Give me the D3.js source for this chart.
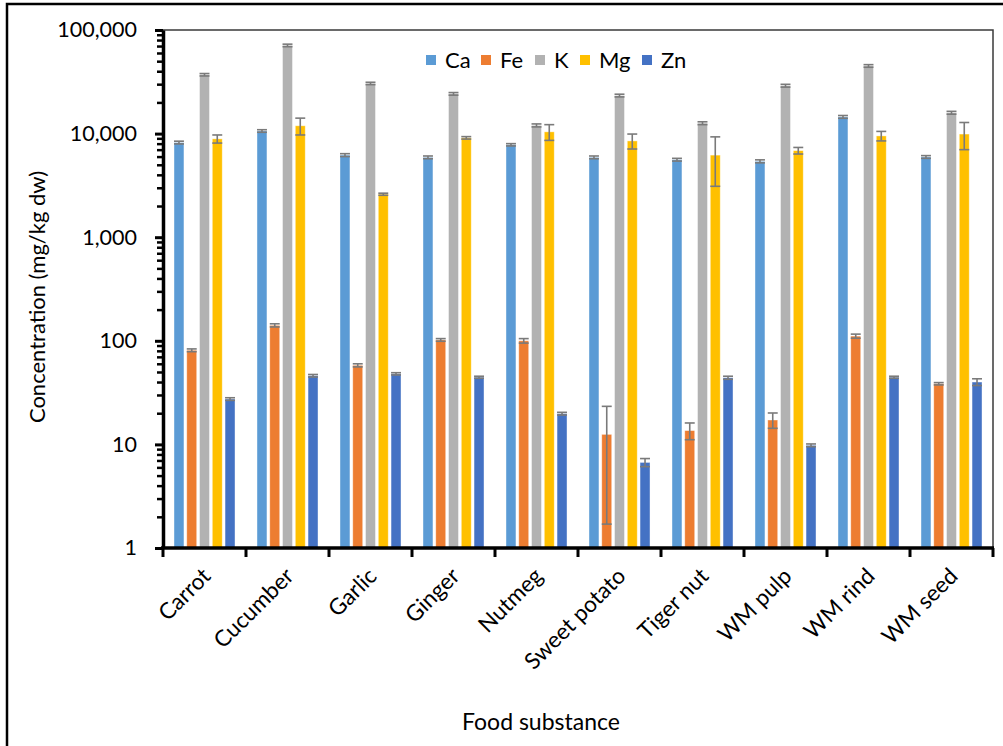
<!DOCTYPE html>
<html>
<head>
<meta charset="utf-8">
<script src="https://cdn.jsdelivr.net/npm/d3@7"></script>
<style>
  body { margin: 0; background: #fff; }
  text { font-family: Lato, "Open Sans", sans-serif; fill: #000; }
</style>
</head>
<body>
<svg id="chart" width="1003" height="746"></svg>
<script>
// data (mg/kg dw)
const categories = ["Carrot", "Cucumber", "Garlic", "Ginger", "Nutmeg", "Sweet potato", "Tiger nut", "WM pulp", "WM rind", "WM seed"];
const elements = ["Ca", "Fe", "K", "Mg", "Zn"];
const colors = ["#5B9BD5", "#ED7D31", "#B2B2B2", "#FFC000", "#4472C4"];

const caValues = [8200, 10600, 6200, 5900, 7800, 5900, 5600, 5400, 14500, 5950];
const caErrors = [250, 300, 200, 180, 200, 180, 170, 180, 450, 180];
const feValues = [81, 141, 58, 102, 100, 12.5, 13.6, 17.2, 111, 38.5];
const feErrors = [2.5, 5, 2, 3, 5, 10.8, 2.5, 2.9, 5, 1];
const kValues = [37000, 71000, 30500, 24200, 12000, 23300, 12600, 29000, 45000, 15900];
const kErrors = [1000, 2000, 800, 700, 400, 700, 400, 900, 1300, 500];
const mgValues = [8900, 11900, 2600, 9100, 10400, 8500, 6200, 6850, 9500, 9900];
const mgErrors = [800, 2200, 60, 250, 1800, 1400, 3100, 500, 1000, 2900];
const znValues = [27.4, 46, 48, 44.5, 19.8, 6.7, 44, 9.8, 44.5, 40];
const znErrors = [0.8, 1.3, 1.2, 1, 0.6, 0.6, 1.5, 0.3, 1, 3];

const yTicks = [1, 10, 100, 1000, 10000, 100000];

const seriesValues = [caValues, feValues, kValues, mgValues, znValues];
const seriesErrors = [caErrors, feErrors, kErrors, mgErrors, znErrors];

const svg = d3.select("#chart");
const plotLeft = 163, plotRight = 993, plotTop = 30, plotBottom = 548;

// outer frame (top and left edges only visible)
svg.append("rect")
  .attr("x", 7).attr("y", 4)
  .attr("width", 1100).attr("height", 900)
  .attr("fill", "none").attr("stroke", "#000").attr("stroke-width", 2.5);

const x0 = d3.scaleBand()
  .domain(categories)
  .range([plotLeft, plotRight])
  .paddingInner(0.265)
  .paddingOuter(0.1325);

const x1 = d3.scaleBand()
  .domain(elements)
  .range([0, x0.bandwidth()])
  .paddingInner(0.22);

const y = d3.scaleLog()
  .domain([1, 100000])
  .range([plotBottom, plotTop]);

// plot area border
svg.append("rect")
  .attr("x", plotLeft).attr("y", plotTop)
  .attr("width", plotRight - plotLeft).attr("height", plotBottom - plotTop)
  .attr("fill", "none").attr("stroke", "#3a3a3a").attr("stroke-width", 1.5);

// bars
const rows = [];
categories.forEach((c, i) => {
  elements.forEach((e, j) => {
    rows.push({ cat: c, el: e, k: j, value: seriesValues[j][i], err: seriesErrors[j][i] });
  });
});

svg.append("g")
  .selectAll("rect")
  .data(rows)
  .join("rect")
  .attr("x", d => x0(d.cat) + x1(d.el))
  .attr("width", x1.bandwidth())
  .attr("y", d => y(d.value))
  .attr("height", d => y(1) - y(d.value))
  .attr("fill", d => colors[d.k])
  .attr("stroke", "#fff")
  .attr("stroke-opacity", 0.5)
  .attr("stroke-width", 0.8);

// error bars
const eb = svg.append("g")
  .attr("stroke", "#7a7a7a")
  .attr("stroke-width", 1.6);

rows.forEach(d => {
  const cx = x0(d.cat) + x1(d.el) + x1.bandwidth() / 2;
  const hi = y(d.value + d.err);
  const lo = y(Math.max(d.value - d.err, 1));
  const w = x1.bandwidth() / 2;
  eb.append("line").attr("x1", cx).attr("x2", cx).attr("y1", hi).attr("y2", lo);
  eb.append("line").attr("x1", cx - w).attr("x2", cx + w).attr("y1", hi).attr("y2", hi);
  eb.append("line").attr("x1", cx - w).attr("x2", cx + w).attr("y1", lo).attr("y2", lo);
});

// y axis: minor ticks then major ticks with labels
const minorTicks = [];
for (let p = 0; p < 5; p++) {
  for (let m = 2; m < 10; m++) minorTicks.push(m * Math.pow(10, p));
}

svg.append("g")
  .attr("transform", `translate(${plotLeft},0)`)
  .call(d3.axisLeft(y).tickValues(minorTicks).tickSize(6).tickFormat(""))
  .call(g => g.select(".domain").remove())
  .selectAll("line").attr("stroke", "#000").attr("stroke-width", 2.5);

const yAxis = svg.append("g")
  .attr("transform", `translate(${plotLeft},0)`)
  .call(d3.axisLeft(y).tickValues(yTicks).tickSize(8).tickSizeOuter(0).tickPadding(18).tickFormat(d3.format(",")));
yAxis.select(".domain").attr("stroke", "#000").attr("stroke-width", 3.5);
yAxis.selectAll(".tick line").attr("stroke", "#000").attr("stroke-width", 3);
yAxis.selectAll(".tick text").style("font-size", "21.5px").attr("fill", "#000");

// x axis: ticks on category boundaries
const xAxis = svg.append("g")
  .attr("transform", `translate(0,${plotBottom})`);
xAxis.append("line")
  .attr("x1", plotLeft - 2).attr("x2", plotRight + 1)
  .attr("stroke", "#000").attr("stroke-width", 3.5);
const step = x0.step();
const boundaries = d3.range(categories.length + 1).map(i => plotLeft + i * step);
xAxis.selectAll("line.tk")
  .data(boundaries)
  .join("line")
  .attr("class", "tk")
  .attr("x1", d => d).attr("x2", d => d)
  .attr("y1", 0).attr("y2", 9)
  .attr("stroke", "#000").attr("stroke-width", 3);

xAxis.selectAll("text")
  .data(categories)
  .join("text")
  .attr("transform", d => `translate(${x0(d) + x0.bandwidth() / 2 + 2},${24}) rotate(-45)`)
  .attr("text-anchor", "end")
  .attr("dy", "0.35em")
  .style("font-size", "22.5px")
  .text(d => d);

// axis titles
svg.append("text")
  .attr("transform", `translate(37,${(plotTop + plotBottom) / 2 + 8}) rotate(-90)`)
  .attr("text-anchor", "middle")
  .attr("dy", "0.35em")
  .style("font-size", "22px")
  .text("Concentration (mg/kg dw)");

svg.append("text")
  .attr("x", 541).attr("y", 722)
  .attr("text-anchor", "middle")
  .attr("dy", "0.35em")
  .style("font-size", "23px")
  .text("Food substance");

// legend
const legendX = [426, 481, 535, 580, 642];
const legend = svg.append("g");
elements.forEach((e, j) => {
  legend.append("rect")
    .attr("x", legendX[j]).attr("y", 55)
    .attr("width", 10).attr("height", 10)
    .attr("fill", colors[j]);
  legend.append("text")
    .attr("x", legendX[j] + 19).attr("y", 60)
    .attr("dy", "0.35em")
    .style("font-size", "22px")
    .text(e);
});
</script>
</body>
</html>
